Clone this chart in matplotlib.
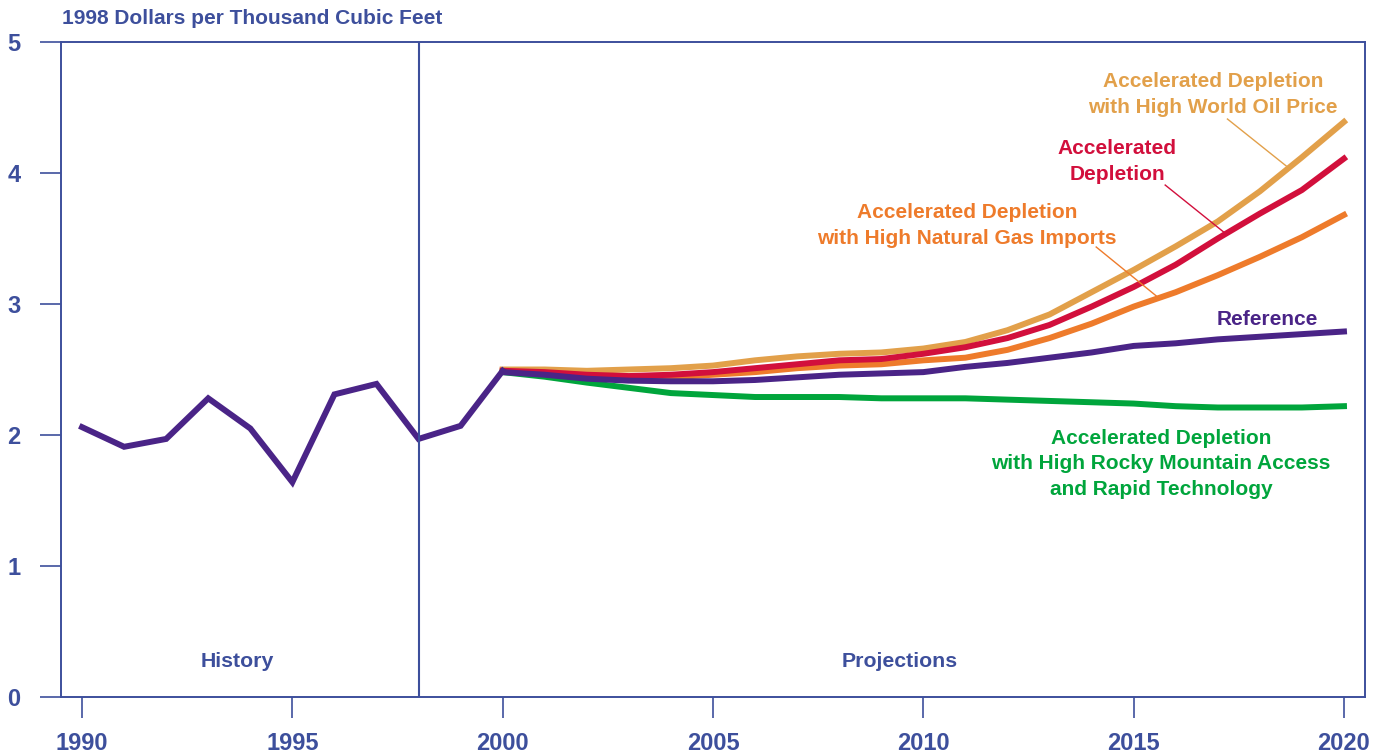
import matplotlib.pyplot as plt

# chart values (1998 dollars per thousand cubic feet)
hist_years = list(range(1990, 2001))
hist_price = [2.06, 1.91, 1.97, 2.28, 2.05, 1.64, 2.31, 2.39, 1.97, 2.07, 2.49]

proj_years = list(range(2000, 2021))
reference = [2.48, 2.46, 2.43, 2.415, 2.41, 2.41, 2.42, 2.44, 2.46, 2.47, 2.48,
             2.52, 2.55, 2.59, 2.63, 2.68, 2.70, 2.73, 2.75, 2.77, 2.79]
accel = [2.49, 2.48, 2.46, 2.45, 2.46, 2.48, 2.51, 2.54, 2.57, 2.58, 2.62,
         2.67, 2.74, 2.84, 2.98, 3.13, 3.30, 3.50, 3.69, 3.87, 4.11]
accel_oil = [2.50, 2.50, 2.49, 2.50, 2.51, 2.53, 2.57, 2.60, 2.62, 2.63, 2.66,
             2.71, 2.80, 2.92, 3.09, 3.26, 3.44, 3.63, 3.86, 4.12, 4.39]
accel_imports = [2.49, 2.47, 2.45, 2.43, 2.44, 2.46, 2.48, 2.51, 2.53, 2.54, 2.57,
                 2.59, 2.65, 2.74, 2.85, 2.98, 3.09, 3.22, 3.36, 3.51, 3.68]
accel_rocky = [2.48, 2.445, 2.40, 2.36, 2.32, 2.305, 2.29, 2.29, 2.29, 2.28, 2.28,
               2.28, 2.27, 2.26, 2.25, 2.24, 2.22, 2.21, 2.21, 2.21, 2.22]

x_ticks = [1990, 1995, 2000, 2005, 2010, 2015, 2020]
y_ticks = [0, 1, 2, 3, 4, 5]

BLUE = '#3d4f9c'
PURPLE = '#4a2487'
RED = '#d20f3c'
TAN = '#e2a04a'
ORANGE = '#ee7b2b'
GREEN = '#00a53c'

NARROW = ['Liberation Sans Narrow', 'Liberation Sans', 'DejaVu Sans']

plt.rcParams['font.family'] = ['Liberation Sans', 'DejaVu Sans']
plt.rcParams['font.weight'] = 'bold'

fig = plt.figure(figsize=(13.78, 7.53), dpi=100)
ax = fig.add_axes([61 / 1378, 1 - 697 / 753, (1365 - 61) / 1378, (697 - 42) / 753])

lw = 4.3
ax.plot(proj_years, accel_rocky, color=GREEN, lw=lw, solid_joinstyle='round')
ax.plot(proj_years, accel_imports, color=ORANGE, lw=lw, solid_joinstyle='round')
ax.plot(proj_years, accel_oil, color=TAN, lw=lw, solid_joinstyle='round')
ax.plot(proj_years, accel, color=RED, lw=lw, solid_joinstyle='round')
ax.plot(proj_years, reference, color=PURPLE, lw=lw, solid_joinstyle='round')
ax.plot(hist_years, hist_price, color=PURPLE, lw=lw, solid_joinstyle='miter')

# history / projections divider
ax.axvline(1998, color=BLUE, lw=1.5)

ax.set_xlim(1989.5, 2020.5)
ax.set_ylim(0, 5)
ax.set_xticks(x_ticks)
ax.set_yticks(y_ticks)
for s in ax.spines.values():
    s.set_color(BLUE)
    s.set_linewidth(1.4)
ax.tick_params(axis='both', direction='out', length=15, width=1.2, color=BLUE,
               labelcolor=BLUE)
ax.tick_params(axis='x', pad=10)
ax.tick_params(axis='y', pad=14)
for lab in ax.get_xticklabels() + ax.get_yticklabels():
    lab.set_family(NARROW)
    lab.set_fontweight('bold')
    lab.set_fontsize(17)

fig.text(62 / 1378, 1 - 19 / 753, '1998 Dollars per Thousand Cubic Feet',
         ha='left', va='center', color=BLUE, fontsize=15, fontweight='bold')

fs = 15
ls = 1.45
ax.text(2016.89, 4.60, 'Accelerated Depletion\nwith High World Oil Price', color=TAN,
        ha='center', va='center', fontsize=fs, fontweight='bold', linespacing=ls)
ax.text(2014.61, 4.09, 'Accelerated\nDepletion', color=RED,
        ha='center', va='center', fontsize=fs, fontweight='bold', linespacing=ls)
ax.text(2011.04, 3.60, 'Accelerated Depletion\nwith High Natural Gas Imports', color=ORANGE,
        ha='center', va='center', fontsize=fs, fontweight='bold', linespacing=ls)
ax.text(2018.18, 2.885, 'Reference', color=PURPLE,
        ha='center', va='center', fontsize=fs, fontweight='bold')
ax.text(2015.65, 1.78, 'Accelerated Depletion\nwith High Rocky Mountain Access\nand Rapid Technology',
        color=GREEN, ha='center', va='center', fontsize=fs, fontweight='bold', linespacing=ls)
ax.text(1993.70, 0.27, 'History', color=BLUE, ha='center', va='center',
        fontsize=15.3, fontweight='bold', family=NARROW)
ax.text(2009.44, 0.27, 'Projections', color=BLUE, ha='center', va='center',
        fontsize=15.3, fontweight='bold', family=NARROW)

# leader lines from labels to curves
ax.plot([2017.23, 2018.63], [4.412, 4.053], color=TAN, lw=1)
ax.plot([2015.75, 2017.20], [3.908, 3.534], color=RED, lw=1)
ax.plot([2014.11, 2015.54], [3.435, 3.061], color=ORANGE, lw=1)

fig.savefig('out.png', dpi=100)
